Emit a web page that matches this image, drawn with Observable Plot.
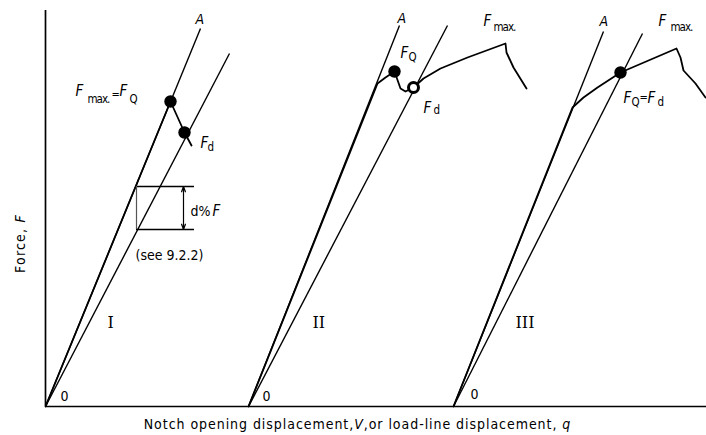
<!DOCTYPE html>
<html>
<head>
<meta charset="utf-8">
<script src="https://cdn.jsdelivr.net/npm/d3@7"></script>
<script src="https://cdn.jsdelivr.net/npm/@observablehq/plot@0.6"></script>
<style>
  html, body { margin: 0; padding: 0; background: #fff; }
  #chart svg { display: block; }
</style>
</head>
<body>
<div id="chart"></div>
<script>
// Force–displacement records for the three typical test types
// (displacement along x, force along y, in drawing units).
const curveI = [[0, 0], [125, 305], [139, 274], [146, 261]];
const curveII = [[203, 0], [332, 323], [340, 329], [349, 335], [355, 318], [360, 315], [368, 319],
                 [378, 328], [395, 338], [422, 349], [460, 363], [461, 354], [468, 339], [481, 318]];
const curveIII = [[408, 0], [527, 299], [538, 309], [552, 319], [575, 334], [631, 358],
                  [635, 349], [638, 336], [650, 323], [660, 309]];

// Initial tangent (line A) and the reduced-slope secant, one pair per type: [x1, y1, x2, y2]
const tangentLines = [[0, 0, 155, 378], [203, 0, 354, 381], [408, 0, 558, 375]];
const secantLines = [[0, 0, 184, 353], [203, 0, 402, 381], [408, 0, 597, 373]];

// Characteristic points F_Q, F_d, F_max
const solidPoints = [[125, 305], [139, 274], [349, 335], [575, 334]];
const openPoints = [[368, 319]];

// d%F construction box: [xLeft, xRight, yBottom, yTop], arrow at x
const deltaBox = [91, 149, 177, 220];
const deltaArrowX = 138;

// Axis extents
const axisTop = 396;
const axisRight = 661;

// Labels: [text, x, y(baseline)]
const italicLabels = [
  ["F", 30, 311], ["F", 74, 311], ["F", 155, 259],
  ["F", 355, 349], ["F", 378, 294], ["F", 438, 381],
  ["F", 613, 381], ["F", 578, 304], ["F", 602, 304],
  ["F", 167, 191]
];
const letterA = [["A", 150, 383], ["A", 352, 384], ["A", 554, 381]];
const subscriptLabels = [
  ["max.", 42, 304], ["Q", 84, 304], ["d", 162, 256],
  ["Q", 363, 346], ["d", 388, 293], ["max.", 448, 376],
  ["max.", 625, 376], ["Q", 586, 301], ["d", 612, 301]
];
const equalsLabels = [["=", 66, 309], ["=", 594, 306]];
const plainLabels = [["d%", 145, 191], ["(see 9.2.2)", 90, 147]];
const originLabels = [["0", 15, 6], ["0", 217, 6], ["0", 425, 8]];
const typeLabels = [["I", 62, 79], ["II", 267, 79], ["III", 470, 79]];

// Axis titles, as runs of [text, italic?]
const xTitleRuns = [["Notch opening displacement,", false], ["V", true],
                    [",or load-line displacement, ", false], ["q", true]];
const yTitleRuns = [["Force, ", false], ["F", true]];
const xTitle = xTitleRuns.map((r) => r[0]).join("");
const yTitle = yTitleRuns.map((r) => r[0]).join("");

const sans = "'DejaVu Sans Condensed', 'DejaVu Sans', sans-serif";
const serif = "'DejaVu Serif', 'Liberation Serif', serif";
const ink = "#000";

const toPts = (rows) => rows.map(([x, y]) => ({x, y}));
const toSeg = (rows) => rows.map(([x1, y1, x2, y2]) => ({x1, y1, x2, y2}));
const toLab = (rows) => rows.map(([t, x, y]) => ({t, x, y}));
const labelOpts = {x: "x", y: "y", text: "t", textAnchor: "start", lineAnchor: "bottom", fill: ink};

const lineOpts = {x: "x", y: "y", stroke: ink, strokeWidth: 1.8, strokeLinejoin: "round"};

const chart = Plot.plot({
  width: 706,
  height: 435,
  marginLeft: 45,
  marginRight: 0,
  marginTop: 0,
  marginBottom: 29,
  x: {domain: [0, axisRight], axis: null},
  y: {domain: [0, 406], axis: null},
  style: {background: "#fff", fontFamily: sans, overflow: "visible", color: ink},
  marks: [
    // axes
    Plot.ruleX([0], {y1: 0, y2: axisTop, stroke: ink, strokeWidth: 1.7}),
    Plot.ruleY([0], {x1: 0, x2: axisRight, stroke: ink, strokeWidth: 1.7}),

    // tangent and secant lines
    Plot.link(toSeg(tangentLines), {x1: "x1", y1: "y1", x2: "x2", y2: "y2", stroke: ink, strokeWidth: 1.4}),
    Plot.link(toSeg(secantLines), {x1: "x1", y1: "y1", x2: "x2", y2: "y2", stroke: ink, strokeWidth: 1.4}),

    // force-displacement records
    Plot.line(toPts(curveI), lineOpts),
    Plot.line(toPts(curveII), lineOpts),
    Plot.line(toPts(curveIII), lineOpts),

    // d%F construction
    Plot.ruleY([deltaBox[3], deltaBox[2]], {x1: deltaBox[0], x2: deltaBox[1], stroke: ink, strokeWidth: 1.3}),
    Plot.ruleX([deltaBox[0]], {y1: deltaBox[2], y2: deltaBox[3], stroke: "#555", strokeWidth: 1.2}),
    Plot.arrow([deltaBox[3], deltaBox[2]], {
      x1: deltaArrowX, x2: deltaArrowX,
      y1: (deltaBox[2] + deltaBox[3]) / 2, y2: (d) => d,
      stroke: ink, strokeWidth: 1.2, headLength: 7, headAngle: 40
    }),

    // characteristic points
    Plot.dot(toPts(solidPoints), {x: "x", y: "y", r: 6.2, fill: ink, stroke: "none"}),
    Plot.dot(toPts(openPoints), {x: "x", y: "y", r: 5, fill: "#fff", stroke: ink, strokeWidth: 3}),

    // labels
    Plot.text(toLab(italicLabels), {...labelOpts, fontSize: 15, fontStyle: "italic"}),
    Plot.text(toLab(letterA), {...labelOpts, fontSize: 14, fontStyle: "italic"}),
    Plot.text(toLab(subscriptLabels), {...labelOpts, fontSize: 11.5}),
    Plot.text(toLab(equalsLabels), {...labelOpts, fontSize: 11}),
    Plot.text(toLab(plainLabels), {...labelOpts, fontSize: 14}),
    Plot.text(toLab(originLabels), {...labelOpts, fontSize: 14}),
    Plot.text(toLab(typeLabels), {...labelOpts, fontSize: 16, fontFamily: serif}),

    // axis titles
    Plot.text([xTitle], {x: 312, y: -22, text: (d) => d, textAnchor: "middle", lineAnchor: "bottom",
      fontSize: 14, fill: ink}),
    Plot.text([yTitle], {x: -25, y: 163, text: (d) => d, rotate: -90, textAnchor: "middle",
      fontSize: 14, fill: ink})
  ]
});

// Letter spacing: open on the axis titles, tight on the "max." subscripts
const spacing = new Map([[xTitle, 0.95], [yTitle, 1.2], ["max.", -1]]);
const runs = new Map([[xTitle, xTitleRuns], [yTitle, yTitleRuns]]);
d3.select(chart).selectAll("text")
  .filter(function () { return spacing.has(this.textContent); })
  .each(function () {
    const t = this.textContent;
    const el = d3.select(this).attr("letter-spacing", spacing.get(t));
    // italic symbols inside the axis titles
    if (runs.has(t)) {
      el.text(null);
      for (const [s, it] of runs.get(t)) {
        el.append("tspan").attr("font-style", it ? "italic" : null).text(s);
      }
    }
  });

document.getElementById("chart").append(chart);
</script>
</body>
</html>
